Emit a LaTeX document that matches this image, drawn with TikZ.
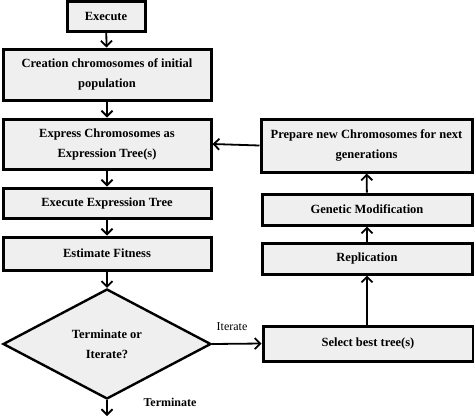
\documentclass[tikz,border=0pt]{standalone}
\usepackage{fontspec}
\setmainfont{Liberation Serif}
\usetikzlibrary{shapes.geometric,arrows.meta}
\definecolor{boxfill}{HTML}{EFEFEF}
\begin{document}
\begin{tikzpicture}[x=1pt,y=-1pt,
  box/.style={draw=black,line width=3pt,fill=boxfill,rectangle,inner sep=0pt,
    align=center,font=\fontsize{12.5}{20}\selectfont\bfseries},
  arr/.style={line width=1.8pt,-{Straight Barb[length=5.5pt,width=11pt,line width=1.8pt]}},
  lbl/.style={font=\fontsize{12}{14}\selectfont}]
\useasboundingbox (0,0) rectangle (474,416);
\node[box,minimum width=78pt,minimum height=30pt] (exe) at (106,16) {Execute};
\node[box,minimum width=208pt,minimum height=51pt] (cre) at (107,74.5) {Creation chromosomes of initial\\population};
\node[box,minimum width=208pt,minimum height=50pt] (exp) at (107,144) {Express Chromosomes as\\Expression Tree(s)};
\node[box,minimum width=208pt,minimum height=30pt] (ext) at (107,203) {Execute Expression Tree};
\node[box,minimum width=208pt,minimum height=33pt] (est) at (107,253.5) {Estimate Fitness};
\node[box,shape=diamond,line width=2.4pt,minimum width=208pt,minimum height=110pt,aspect=1.89] (dec) at (107,344) {Terminate or\\Iterate?};
\node[box,minimum width=210pt,minimum height=35pt] (sel) at (368,343.5) {Select best tree(s)};
\node[box,minimum width=210pt,minimum height=31pt] (rep) at (367,258.5) {Replication};
\node[box,minimum width=210pt,minimum height=31pt] (gen) at (367,209.5) {Genetic Modification};
\node[box,minimum width=211pt,minimum height=53pt] (pre) at (366.5,145.5) {Prepare new Chromosomes for next\\generations};
\coordinate (endT) at (107,416);
\draw[arr] (exe) -- (cre);
\draw[arr] (cre) -- (exp);
\draw[arr] (exp) -- (ext);
\draw[arr] (ext) -- (est);
\draw[arr] (est) -- (dec);
\draw[arr] (dec.south) -- (endT);
\draw[arr] (dec.east) -- (sel.west);
\draw[arr] (sel.north -| rep.south) -- (rep.south);
\draw[arr] (rep) -- (gen);
\draw[arr] (gen) -- (pre);
\draw[arr] (pre.west) -- (exp.east);
\node[lbl] (it) at (232,327) {Iterate};
\node[lbl,font=\fontsize{12}{14}\selectfont\bfseries] (te) at (170,402) {Terminate};
\end{tikzpicture}
\end{document}
